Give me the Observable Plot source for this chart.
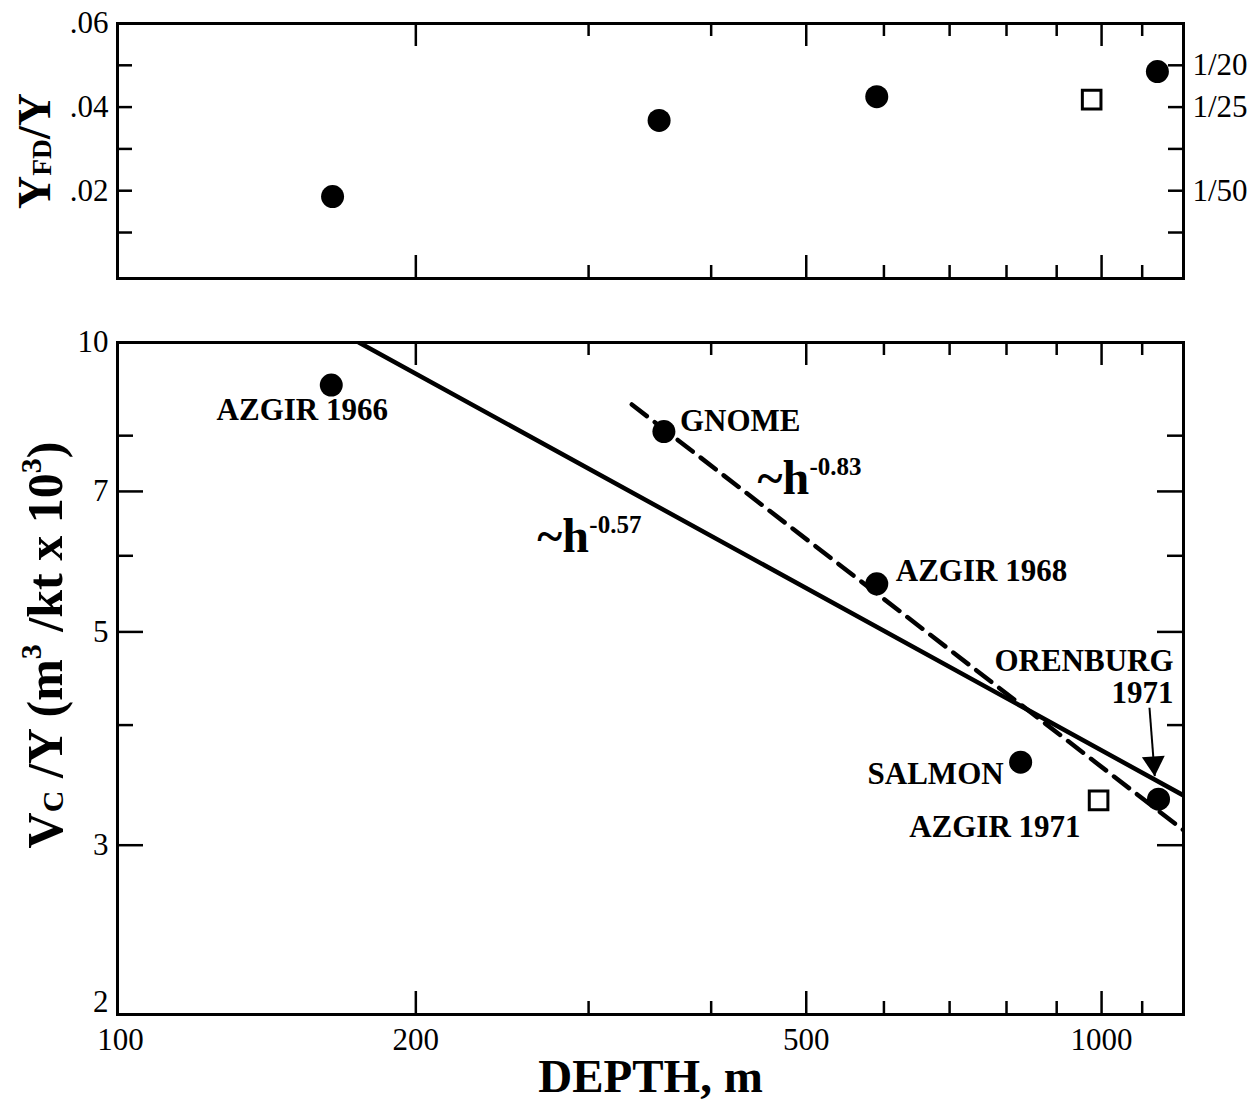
<!DOCTYPE html>
<html>
<head>
<meta charset="utf-8">
<script src="https://cdn.jsdelivr.net/npm/d3@7"></script>
<script src="https://cdn.jsdelivr.net/npm/@observablehq/plot@0.6"></script>
<style>
  html, body { margin: 0; padding: 0; background: #fff; }
  #chart { position: relative; width: 1253px; height: 1103px; background: #fff; }
  #chart svg { position: absolute; left: 0; overflow: visible; }
</style>
</head>
<body>
<div id="chart"></div>
<script>
// ---------------- data ----------------
// top panel: Y_FD / Y versus depth
const topDepth = [164.5, 354, 590, 1140];
const topRatio = [0.0186, 0.0368, 0.0425, 0.0485];
const topSquareDepth = [977];
const topSquareRatio = [0.0418];

// bottom panel: crater volume per yield versus depth
const eventNames = ["AZGIR 1966", "GNOME", "AZGIR 1968", "SALMON", "ORENBURG\n1971"];
const eventDepth = [164, 358, 590, 827, 1143];
const eventVolume = [9.03, 8.08, 5.61, 3.66, 3.35];
const squareNames = ["AZGIR 1971"];
const squareDepth = [993];
const squareVolume = [3.34];

// fitted power laws (end points)
const fitSolidDepth = [175, 1212];
const fitSolidVolume = [10, 3.38];
const fitDashedDepth = [332, 1212];
const fitDashedVolume = [8.62, 3.11];
const fitLabelBase = ["~h", "~h"];
const fitLabelExp = ["-0.57", "-0.83"];
const fitLabelDepth = [266, 446];
const fitLabelVolume = [6.05, 6.96];

// arrow pointing at ORENBURG 1971
const arrowDepth = [1119, 1133];
const arrowVolume = [4.17, 3.54];

// ticks
const xLabelTicks = [100, 200, 500, 1000];
const xMajorTicks = [200, 500, 1000];
const xMinorTicks = [300, 400, 600, 700, 800, 900, 1100];
const topYTicks = [0.01, 0.02, 0.03, 0.04, 0.05];
const topLeftTicks = [0.02, 0.04, 0.06];
const topLeftLabels = [".02", ".04", ".06"];
const topRightTicks = [0.05, 0.04, 0.02];
const topRightLabels = ["1/20", "1/25", "1/50"];
const botLabelTicks = [3, 5, 7, 10];
const botBottomLabelTick = [2];
const botMajorTicks = [3, 5, 7];
const botMinorTicks = [4, 6, 8];

// axis titles
const topYTitle = [["Y", ""], ["FD", "sub"], ["/Y", ""]];
const botYTitle = [["V", ""], ["C", "sub"], [" /Y (m", ""], ["3", "sup"], [" /kt x 10", ""], ["3", "sup"], [")", ""]];
const xTitle = "DEPTH, m";

// ---------------- layout ----------------
const FONT = '"Liberation Serif","Times New Roman",Times,serif';
const TICKFS = 31;
const W = 1253;
const mL = 117, mR = W - 1183;
const frameW = W - mL - mR;
const xDomain = [99.3, 1212];

const topPts = topDepth.map((d, i) => ({depth: d, ratio: topRatio[i]}));
const topSq = topSquareDepth.map((d, i) => ({depth: d, ratio: topSquareRatio[i]}));
const events = eventNames.map((n, i) => ({name: n, depth: eventDepth[i], volume: eventVolume[i]}));
const squares = squareNames.map((n, i) => ({name: n, depth: squareDepth[i], volume: squareVolume[i]}));
const solid = fitSolidDepth.map((d, i) => ({depth: d, volume: fitSolidVolume[i]}));
const dashed = fitDashedDepth.map((d, i) => ({depth: d, volume: fitDashedVolume[i]}));
const fitLabels = fitLabelBase.map((b, i) => ({base: b, exp: fitLabelExp[i], depth: fitLabelDepth[i], volume: fitLabelVolume[i]}));
const arrowLink = [{x1: arrowDepth[0], y1: arrowVolume[0], x2: arrowDepth[1], y2: arrowVolume[1]}];

const topLeftMap = new Map(topLeftTicks.map((t, i) => [t, topLeftLabels[i]]));
const topRightMap = new Map(topRightTicks.map((t, i) => [t, topRightLabels[i]]));

function xTickRules(frameH) {
  const big = 23, small = 13, sw = 2.5;
  return [
    Plot.ruleX(xMajorTicks, {x: d => d, insetTop: frameH - big, strokeWidth: sw}),
    Plot.ruleX(xMajorTicks, {x: d => d, insetBottom: frameH - big, strokeWidth: sw}),
    Plot.ruleX(xMinorTicks, {x: d => d, insetTop: frameH - small, strokeWidth: sw}),
    Plot.ruleX(xMinorTicks, {x: d => d, insetBottom: frameH - small, strokeWidth: sw})
  ];
}
function yTickRules(ticks, len) {
  return [
    Plot.ruleY(ticks, {y: d => d, insetRight: frameW - len, strokeWidth: 2.5}),
    Plot.ruleY(ticks, {y: d => d, insetLeft: frameW - len, strokeWidth: 2.5})
  ];
}

function addRotatedTitle(svg, x, y, size, parts) {
  const t = d3.select(svg).append("text")
    .attr("transform", `translate(${x},${y}) rotate(-90)`)
    .attr("text-anchor", "middle")
    .attr("font-family", FONT)
    .attr("font-weight", "bold")
    .attr("font-size", size)
    .attr("fill", "black");
  let shift = 0;
  parts.forEach(([s, kind]) => {
    const ts = t.append("tspan").text(s);
    let target = 0;
    if (kind === "sup") { ts.attr("font-size", size * 0.6); target = -0.42 * size; }
    if (kind === "sub") { ts.attr("font-size", size * 0.6); target = 0.02 * size; }
    ts.attr("dy", target - shift);
    shift = target;
  });
}

// ---------------- top panel ----------------
const topH = 300;
const topFrameH = 278 - 23;
const topPlot = Plot.plot({
  width: W, height: topH,
  marginLeft: mL, marginRight: mR, marginTop: 23, marginBottom: topH - 278,
  style: {fontFamily: FONT, background: "white", color: "black", overflow: "visible"},
  x: {type: "log", domain: xDomain, axis: null},
  y: {domain: [-0.001, 0.06]},
  marks: [
    ...xTickRules(topFrameH),
    ...yTickRules(topYTicks, 15),
    Plot.axisY(topLeftTicks, {anchor: "left", tickSize: 0, tickPadding: 9, label: null,
      tickFormat: d => topLeftMap.get(d), fontSize: TICKFS, fontFamily: FONT}),
    Plot.axisY(topRightTicks, {anchor: "right", tickSize: 0, tickPadding: 9, label: null,
      tickFormat: d => topRightMap.get(d), fontSize: TICKFS, fontFamily: FONT}),
    Plot.dot(topPts, {x: "depth", y: "ratio", r: 11.5, fill: "black", stroke: "none"}),
    Plot.dot(topSq, {x: "depth", y: "ratio", symbol: "square", r: 10.5, fill: "white", stroke: "black", strokeWidth: 3}),
    Plot.frame({strokeWidth: 3})
  ]
});
topPlot.style.top = "0px";
addRotatedTitle(topPlot, 50, 151, 46, topYTitle);
document.getElementById("chart").appendChild(topPlot);

// ---------------- bottom panel ----------------
const botTop = 300;
const botH = 1103 - botTop;
const botFrameTop = 342 - botTop, botFrameBottom = 1014 - botTop;
const botFrameH = botFrameBottom - botFrameTop;
const labelStyle = {fontSize: 31, fontWeight: "bold", fontFamily: FONT, lineAnchor: "bottom", fill: "black"};
const ev = name => events.filter(e => e.name === name);

const botPlot = Plot.plot({
  width: W, height: botH,
  marginLeft: mL, marginRight: mR, marginTop: botFrameTop, marginBottom: botH - botFrameBottom,
  style: {fontFamily: FONT, background: "white", color: "black", overflow: "visible"},
  x: {type: "log", domain: xDomain},
  y: {type: "log", domain: [2, 10]},
  marks: [
    ...xTickRules(botFrameH),
    ...yTickRules(botMajorTicks, 26),
    ...yTickRules(botMinorTicks, 16),
    Plot.axisX(xLabelTicks, {anchor: "bottom", tickSize: 0, tickPadding: 13, label: null,
      tickFormat: d => String(d), fontSize: TICKFS, fontFamily: FONT}),
    Plot.axisY(botLabelTicks, {anchor: "left", tickSize: 0, tickPadding: 9, label: null,
      tickFormat: d => String(d), fontSize: TICKFS, fontFamily: FONT}),
    Plot.axisY(botBottomLabelTick, {anchor: "left", tickSize: 0, tickPadding: 9, label: null, dy: -12,
      tickFormat: d => String(d), fontSize: TICKFS, fontFamily: FONT}),
    Plot.line(solid, {x: "depth", y: "volume", stroke: "black", strokeWidth: 4.5, clip: true}),
    Plot.line(dashed, {x: "depth", y: "volume", stroke: "black", strokeWidth: 4.5, strokeDasharray: "19,10", clip: true}),
    Plot.dot(events, {x: "depth", y: "volume", r: 11.5, fill: "black", stroke: "none"}),
    Plot.dot(squares, {x: "depth", y: "volume", symbol: "square", r: 10.5, fill: "white", stroke: "black", strokeWidth: 3}),
    // point labels
    Plot.text(ev("AZGIR 1966"), {x: "depth", y: "volume", text: "name", textAnchor: "middle", dx: -29, dy: 35, ...labelStyle}),
    Plot.text(ev("GNOME"), {x: "depth", y: "volume", text: "name", textAnchor: "start", dx: 16, dy: -1, ...labelStyle}),
    Plot.text(ev("AZGIR 1968"), {x: "depth", y: "volume", text: "name", textAnchor: "start", dx: 19, dy: -3, ...labelStyle}),
    Plot.text(ev("SALMON"), {x: "depth", y: "volume", text: "name", textAnchor: "end", dx: -17, dy: 22, ...labelStyle}),
    Plot.text(ev("ORENBURG\n1971"), {x: "depth", y: "volume", text: "name", textAnchor: "end", dx: 15, dy: -96, lineHeight: 1.05, ...labelStyle}),
    Plot.text(squares, {x: "depth", y: "volume", text: "name", textAnchor: "end", dx: -18, dy: 37, ...labelStyle}),
    // fit labels
    Plot.text(fitLabels, {x: "depth", y: "volume", text: "base", textAnchor: "start", lineAnchor: "bottom", fontSize: 48, fontWeight: "bold", fontFamily: FONT}),
    Plot.text(fitLabels, {x: "depth", y: "volume", text: "exp", textAnchor: "start", lineAnchor: "bottom", dx: 52, dy: -19, fontSize: 25, fontWeight: "bold", fontFamily: FONT}),
    // arrow
    Plot.link(arrowLink, {x1: "x1", y1: "y1", x2: "x2", y2: "y2", stroke: "black", strokeWidth: 2}),
    Plot.dot(arrowLink, {x: "x2", y: "y2", symbol: "triangle", r: 8.5, rotate: 176, dx: -1, dy: -13, fill: "black", stroke: "none"}),
    // x title
    Plot.text([xTitle], {frameAnchor: "bottom", text: d => d, lineAnchor: "bottom", dy: (1091 - 1014), fontSize: 47, fontWeight: "bold", fontFamily: FONT}),
    Plot.frame({strokeWidth: 3})
  ]
});
botPlot.style.top = botTop + "px";
addRotatedTitle(botPlot, 62, 645 - botTop, 50, botYTitle);
document.getElementById("chart").appendChild(botPlot);
</script>
</body>
</html>
